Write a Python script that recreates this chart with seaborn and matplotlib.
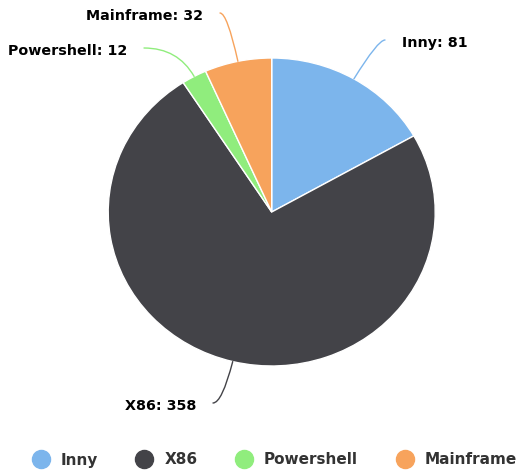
import matplotlib
matplotlib.use("Agg")
import matplotlib.pyplot as plt
import seaborn as sns
import numpy as np
from matplotlib.lines import Line2D

sns.set_theme(style="white")
plt.rcParams['font.family'] = ['DejaVu Sans']

# data
categories = ['Inny', 'X86', 'Powershell', 'Mainframe']
values = [81, 358, 12, 32]
colors = ['#7cb5ec', '#434348', '#90ed7d', '#f7a35c']

# layout (pixels): figure size, pie centre and radii, where each connector ends
W, H = 521, 474
cx, cy, rx, ry = 271.7, 212, 163.5, 154
label_ends = {'Inny': (385, 40), 'X86': (213, 403),
              'Powershell': (144, 48), 'Mainframe': (220, 13)}


def to_data(px, py):
    return (px - cx) / rx, (cy - py) / ry


fig = plt.figure(figsize=(W / 100, H / 100), dpi=100)
ax = fig.add_axes([0, 0, 1, 1])

wedges, _ = ax.pie(values, colors=colors, startangle=90, counterclock=False,
                   wedgeprops=dict(edgecolor='white', linewidth=1))
ax.set_xlim(-cx / rx, (W - cx) / rx)
ax.set_ylim((cy - H) / ry, cy / ry)
ax.set_aspect('auto')
ax.axis('off')

# data labels with curved connectors
for w, cat, val, col in zip(wedges, categories, values, colors):
    mid = np.deg2rad((w.theta1 + w.theta2) / 2)
    ex, ey = np.cos(mid), np.sin(mid)
    ang = np.rad2deg(np.arctan2(ry * np.sin(mid), rx * np.cos(mid)))
    lx, ly = label_ends[cat]
    side = 1 if ex >= 0 else -1
    ax.annotate('', xy=(ex, ey), xytext=to_data(lx, ly),
                arrowprops=dict(arrowstyle='-', color=col, lw=1,
                                shrinkA=0, shrinkB=0,
                                connectionstyle=f"angle3,angleA=0,angleB={ang:.1f}"))
    ax.text(*to_data(lx + side * 17, ly + 3), f"{cat}: {val}",
            ha='left' if side > 0 else 'right', va='center',
            fontsize=10.3, fontweight='bold', color='black')

handles = [Line2D([0], [0], marker='o', linestyle='', markersize=13,
                  markerfacecolor=c, markeredgecolor=c) for c in colors]
leg = ax.legend(handles, categories, loc='center', bbox_to_anchor=(271 / W, 1 - 460 / H),
                ncol=4, frameon=False, handletextpad=0.3, columnspacing=2.05,
                prop=dict(size=11, weight='bold'))
for t in leg.get_texts():
    t.set_color('#333333')

fig.savefig('out.png', dpi=100)
